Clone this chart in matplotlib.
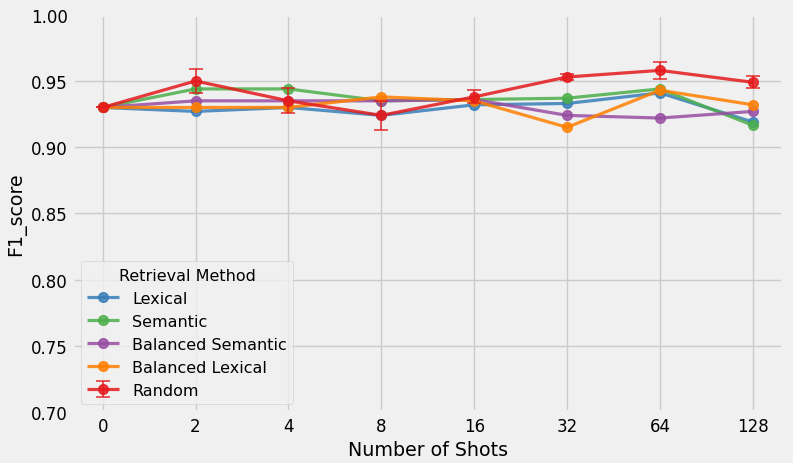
import numpy as np
import matplotlib
matplotlib.use("Agg")
import matplotlib.pyplot as plt

# Data
shots = ["0", "2", "4", "8", "16", "32", "64", "128"]
lexical = [0.930, 0.927, 0.930, 0.924, 0.932, 0.933, 0.941, 0.919]
semantic = [0.930, 0.944, 0.944, 0.935, 0.936, 0.937, 0.944, 0.9165]
balanced_semantic = [0.930, 0.935, 0.935, 0.935, 0.936, 0.924, 0.922, 0.927]
balanced_lexical = [0.930, 0.930, 0.930, 0.938, 0.935, 0.915, 0.943, 0.932]
random_vals = [0.930, 0.950, 0.935, 0.924, 0.938, 0.953, 0.958, 0.949]
random_err = [0.0, 0.009, 0.0095, 0.011, 0.005, 0.002, 0.0066, 0.0045]

plt.style.use("fivethirtyeight")

fig, ax = plt.subplots(figsize=(7.93, 4.64), dpi=100)
fig.subplots_adjust(left=0.092, right=0.988, top=0.966, bottom=0.11)

x = np.arange(len(shots))
series = [
    ("Lexical", lexical, "#377eb8"),
    ("Semantic", semantic, "#4daf4a"),
    ("Balanced Semantic", balanced_semantic, "#984ea3"),
    ("Balanced Lexical", balanced_lexical, "#ff7f00"),
]
for name, vals, color in series:
    ax.plot(x, vals, marker="o", markersize=7, linewidth=2.3, color=color,
            alpha=0.85, label=name)

ax.errorbar(x, random_vals, yerr=random_err, marker="o", markersize=7,
            linewidth=2.3, color="#e41a1c", alpha=0.85, capsize=5,
            elinewidth=1.2, capthick=1.2, label="Random")

ax.set_xticks(x)
ax.set_xticklabels(shots)
ax.set_xlim(-0.32, 7.33)
ax.set_ylim(0.70, 1.00)
ax.set_yticks(np.arange(0.70, 1.001, 0.05))
ax.set_yticklabels([f"{v:.2f}" for v in np.arange(0.70, 1.001, 0.05)])
ax.tick_params(labelsize=12)
ax.set_xlabel("Number of Shots", fontsize=13.7)
ax.set_ylabel("F1_score", fontsize=13.7)

leg = ax.legend(title="Retrieval Method", loc="lower left", fontsize=11.5,
                title_fontsize=11.5)

plt.savefig("out.png", dpi=100, facecolor=fig.get_facecolor())
plt.close()
